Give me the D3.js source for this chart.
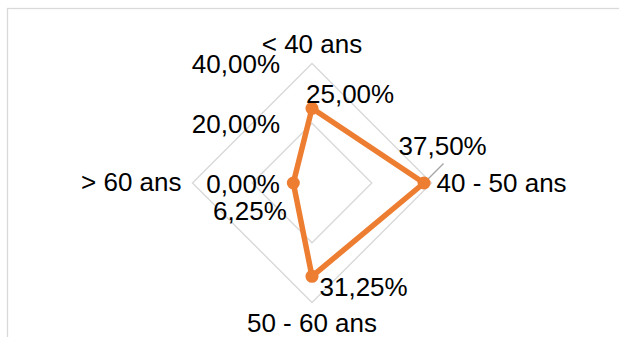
<!DOCTYPE html>
<html>
<head>
<meta charset="utf-8">
<script src="https://cdn.jsdelivr.net/npm/d3@7"></script>
<style>
  html, body { margin: 0; padding: 0; background: #fff; }
  svg { display: block; }
  text { font-family: "Liberation Sans", Arial, sans-serif; fill: #000; }
</style>
</head>
<body>
<script>
// Age groups and their shares
const categories = ["< 40 ans", "40 - 50 ans", "50 - 60 ans", "> 60 ans"];
const values = [0.25, 0.375, 0.3125, 0.0625];
const valueLabels = ["25,00%", "37,50%", "31,25%", "6,25%"];
const ticks = [0, 0.2, 0.4];
const tickLabels = ["0,00%", "20,00%", "40,00%"];

const W = 619, H = 337;
const cx = 312, cy = 183, R = 119.5;
const orange = "#ED7D31";
const grid = "#d9d9d9";
const fontSize = 26;

const svg = d3.select("body").append("svg").attr("width", W).attr("height", H);

// Chart area frame
svg.append("rect")
  .attr("x", 7.5).attr("y", 8.5)
  .attr("width", W + 20).attr("height", H + 20)
  .attr("fill", "none").attr("stroke", grid).attr("stroke-width", 1.3);

const r = d3.scaleLinear().domain([0, 0.4]).range([0, R]);
const angle = d3.scalePoint().domain(categories).range([0, 2 * Math.PI * 3 / 4]);
const pt = (cat, v) => {
  const a = angle(cat);
  return [cx + r(v) * Math.sin(a), cy - r(v) * Math.cos(a)];
};

const g = svg.append("g");

// Grid rings
ticks.filter(t => t > 0).forEach(t => {
  g.append("path")
    .attr("d", d3.line()(categories.map(c => pt(c, t))) + "Z")
    .attr("fill", "none").attr("stroke", grid).attr("stroke-width", 1.4);
});

// Tick labels along the first axis
g.selectAll(".tick").data(ticks).join("text")
  .attr("class", "tick")
  .attr("x", 280)
  .attr("y", t => pt(categories[0], t)[1] + 9.5)
  .attr("text-anchor", "end")
  .attr("font-size", fontSize)
  .text((t, i) => tickLabels[i]);

// Category labels outside each axis
const catOffsets = [
  { dx: 0, dy: -10.5, anchor: "middle" },
  { dx: 5, dy: 9, anchor: "start" },
  { dx: 0, dy: 29.5, anchor: "middle" },
  { dx: -11, dy: 8, anchor: "end" }
];
g.selectAll(".cat").data(categories).join("text")
  .attr("class", "cat")
  .attr("x", (c, i) => pt(c, 0.4)[0] + catOffsets[i].dx)
  .attr("y", (c, i) => pt(c, 0.4)[1] + catOffsets[i].dy)
  .attr("text-anchor", (c, i) => catOffsets[i].anchor)
  .attr("font-size", fontSize)
  .text(c => c);

// Series line
const pts = categories.map((c, i) => pt(c, values[i]));
g.append("path")
  .attr("d", d3.line()(pts) + "Z")
  .attr("fill", "none").attr("stroke", orange)
  .attr("stroke-width", 5.5).attr("stroke-linejoin", "round");

// Leader line for the second label
g.append("line")
  .attr("x1", pts[1][0]).attr("y1", pts[1][1])
  .attr("x2", pts[1][0] + 19.5).attr("y2", pts[1][1] - 19.5)
  .attr("stroke", "#a6a6a6").attr("stroke-width", 1.3);

// Markers
g.selectAll(".dot").data(pts).join("circle")
  .attr("class", "dot")
  .attr("cx", d => d[0]).attr("cy", d => d[1]).attr("r", 6.5)
  .attr("fill", orange);

// Value labels
const labelOffsets = [
  { dx: -6, dy: -5.5, anchor: "start" },
  { dx: -25.5, dy: -28, anchor: "start" },
  { dx: 7.5, dy: 19.5, anchor: "start" },
  { dx: -6.5, dy: 36.5, anchor: "end" }
];
g.selectAll(".val").data(pts).join("text")
  .attr("class", "val")
  .attr("x", (d, i) => d[0] + labelOffsets[i].dx)
  .attr("y", (d, i) => d[1] + labelOffsets[i].dy)
  .attr("text-anchor", (d, i) => labelOffsets[i].anchor)
  .attr("font-size", fontSize)
  .text((d, i) => valueLabels[i]);
</script>
</body>
</html>
